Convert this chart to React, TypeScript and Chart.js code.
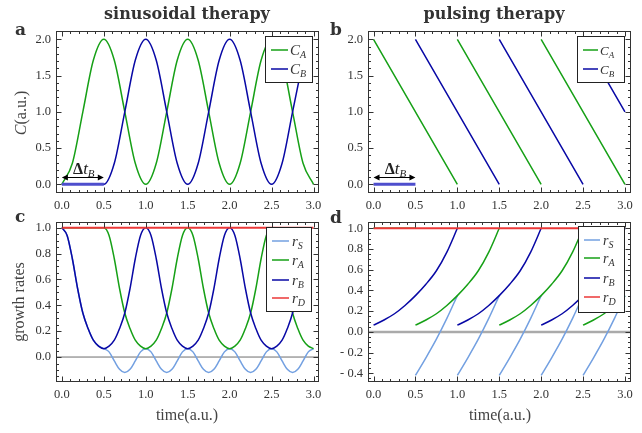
import React, { useEffect, useRef } from "react";
import { Chart, registerables } from "chart.js";

Chart.register(...registerables);

// ---------------- data ----------------
const timeTicks = [0, 0.5, 1, 1.5, 2, 2.5, 3];
const concTicks = [0, 0.5, 1, 1.5, 2];
const rateTicksSin = [0, 0.2, 0.4, 0.6, 0.8, 1];
const rateTicksPulse = [-0.4, -0.2, 0, 0.2, 0.4, 0.6, 0.8, 1];

// panel a: sinusoidal drug concentrations
const sinTime = [0, 0.125, 0.25, 0.375, 0.5, 0.625, 0.75, 0.875, 1, 1.125, 1.25, 1.375, 1.5, 1.625, 1.75, 1.875, 2, 2.125, 2.25, 2.375, 2.5, 2.625, 2.75, 2.875, 3];
const sinCA = [0, 0.29, 1, 1.71, 2, 1.71, 1, 0.29, 0, 0.29, 1, 1.71, 2, 1.71, 1, 0.29, 0, 0.29, 1, 1.71, 2, 1.71, 1, 0.29, 0];
const sinCB = [0, 0, 0, 0, 0, 0.29, 1, 1.71, 2, 1.71, 1, 0.29, 0, 0.29, 1, 1.71, 2, 1.71, 1, 0.29, 0, 0.29, 1, 1.71, null];
const delayTime = [0, 0.5];
const delayLevel = [0, 0];

// panel b: pulsed drug concentrations
const pulseATime = [0, 1, 1, 1, 2, 2, 2, 3];
const pulseCA = [2, 0, null, 2, 0, null, 2, 0];
const pulseBTime = [0.5, 1.5, 1.5, 1.5, 2.5, 2.5, 2.5, 3];
const pulseCB = [2, 0, null, 2, 0, null, 2, 1];

// panel c: growth rates under sinusoidal therapy
const rateTime = [0, 0.0625, 0.125, 0.1875, 0.25, 0.3125, 0.375, 0.4375, 0.5, 0.5625, 0.625, 0.6875, 0.75, 0.8125, 0.875, 0.9375, 1, 1.0625, 1.125, 1.1875, 1.25, 1.3125, 1.375, 1.4375, 1.5, 1.5625, 1.625, 1.6875, 1.75, 1.8125, 1.875, 1.9375, 2, 2.0625, 2.125, 2.1875, 2.25, 2.3125, 2.375, 2.4375, 2.5, 2.5625, 2.625, 2.6875, 2.75, 2.8125, 2.875, 2.9375, 3];
const sinRS = [1, 0.94, 0.76, 0.53, 0.34, 0.22, 0.13, 0.085, 0.065,
  0.04, -0.03, -0.095, -0.12, -0.095, -0.03, 0.04, 0.065,
  0.04, -0.03, -0.095, -0.12, -0.095, -0.03, 0.04, 0.065,
  0.04, -0.03, -0.095, -0.12, -0.095, -0.03, 0.04, 0.065,
  0.04, -0.03, -0.095, -0.12, -0.095, -0.03, 0.04, 0.065,
  0.04, -0.03, -0.095, -0.12, -0.095, -0.03, 0.04, 0.065];
const sinRA = [1, 1, 1, 1, 1, 1, 1, 1, 1,
  0.94, 0.76, 0.53, 0.34, 0.22, 0.13, 0.085, 0.065,
  0.085, 0.13, 0.22, 0.34, 0.53, 0.76, 0.94, 1,
  0.94, 0.76, 0.53, 0.34, 0.22, 0.13, 0.085, 0.065,
  0.085, 0.13, 0.22, 0.34, 0.53, 0.76, 0.94, 1,
  0.94, 0.76, 0.53, 0.34, 0.22, 0.13, 0.085, 0.065];
const sinRB = [1, 0.94, 0.76, 0.53, 0.34, 0.22, 0.13, 0.085, 0.065,
  0.085, 0.13, 0.22, 0.34, 0.53, 0.76, 0.94, 1,
  0.94, 0.76, 0.53, 0.34, 0.22, 0.13, 0.085, 0.065,
  0.085, 0.13, 0.22, 0.34, 0.53, 0.76, 0.94, 1,
  0.94, 0.76, 0.53, 0.34, 0.22, 0.13, 0.085, 0.065,
  0.085, 0.13, 0.22, 0.34, 0.53, null, null, null];
const constTime = [0, 3];
const sinRD = [1, 1];

// panel d: growth rates under pulsing therapy
const pulseRSTime = [0.5, 0.625, 0.75, 0.875, 1, 1, 1, 1.125, 1.25, 1.375, 1.5, 1.5, 1.5, 1.625, 1.75, 1.875, 2, 2, 2, 2.125, 2.25, 2.375, 2.5, 2.5, 2.5, 2.625, 2.75, 2.875, 3];
const pulseRS = [-0.42, -0.25, -0.07, 0.13, 0.35, null, -0.42, -0.25, -0.07, 0.13, 0.35, null, -0.42, -0.25, -0.07, 0.13, 0.35, null, -0.42, -0.25, -0.07, 0.13, 0.35, null, -0.42, -0.25, -0.07, 0.13, 0.35];
const pulseRATime = [0, 0.5, 0.5, 0.5, 0.625, 0.75, 0.875, 1, 1.125, 1.25, 1.375, 1.5, 1.5, 1.5, 1.625, 1.75, 1.875, 2, 2.125, 2.25, 2.375, 2.5, 2.5, 2.5, 2.625, 2.75, 2.875, 3];
const pulseRA = [1, 1, null, 0.065, 0.115, 0.175, 0.255, 0.35, 0.46, 0.59, 0.77, 1, null, 0.065, 0.115, 0.175, 0.255, 0.35, 0.46, 0.59, 0.77, 1, null, 0.065, 0.115, 0.175, 0.255, 0.35];
const pulseRBTime = [0, 0.125, 0.25, 0.375, 0.5, 0.625, 0.75, 0.875, 1, 1, 1, 1.125, 1.25, 1.375, 1.5, 1.625, 1.75, 1.875, 2, 2, 2, 2.125, 2.25, 2.375, 2.5, 2.625, 2.75, 2.875, 3];
const pulseRB = [0.065, 0.115, 0.175, 0.255, 0.35, 0.46, 0.59, 0.77, 1, null, 0.065, 0.115, 0.175, 0.255, 0.35, 0.46, 0.59, 0.77, 1, null, 0.065, 0.115, 0.175, 0.255, 0.35, 0.46, 0.59, 0.77, 1];
const pulseRD = [1, 1];

// ---------------- styles ----------------
const W = 642;
const H = 433;
const YW = 48;
const XH = 30;
const SERIF = '"Liberation Serif", "Times New Roman", serif';
const GREEN = "rgb(22,160,22)";
const BLUE = "rgb(8,8,165)";
const LIGHTBLUE = "rgb(115,160,225)";
const RED = "rgb(235,55,55)";
const DELAY = "rgb(78,78,205)";
const FRAME = "#333";
const TEXT = "#333";

const pts = (xs: number[], ys: (number | null)[]) => xs.map((x, i) => ({ x, y: ys[i] }));
const ds = (xs: number[], ys: (number | null)[], color: string, order: number, extra: any = {}) => ({
  data: pts(xs, ys),
  borderColor: color,
  backgroundColor: color,
  borderWidth: 1.5,
  pointRadius: 0,
  fill: false,
  order,
  cubicInterpolationMode: "monotone",
  ...extra,
});

const fmtTick = (v: number) => (v < 0 ? "- " + Math.abs(v).toFixed(1) : v.toFixed(1));

type Part = { t: string; f: string; dy?: number };
function drawRich(ctx: CanvasRenderingContext2D, parts: Part[], x: number, y: number, align = "left") {
  ctx.textAlign = "left";
  ctx.textBaseline = "alphabetic";
  let w = 0;
  for (const p of parts) {
    ctx.font = p.f;
    w += ctx.measureText(p.t).width;
  }
  let cx = align === "center" ? x - w / 2 : x;
  for (const p of parts) {
    ctx.font = p.f;
    ctx.fillText(p.t, cx, y + (p.dy || 0));
    cx += ctx.measureText(p.t).width;
  }
}

function drawArrow(ctx: CanvasRenderingContext2D, x0: number, x1: number, y: number) {
  ctx.save();
  ctx.strokeStyle = "#000";
  ctx.fillStyle = "#000";
  ctx.lineWidth = 1;
  ctx.beginPath();
  ctx.moveTo(x0 + 2, y);
  ctx.lineTo(x1 - 2, y);
  ctx.stroke();
  ctx.beginPath();
  ctx.moveTo(x0, y);
  ctx.lineTo(x0 + 6, y - 3);
  ctx.lineTo(x0 + 6, y + 3);
  ctx.closePath();
  ctx.moveTo(x1, y);
  ctx.lineTo(x1 - 6, y - 3);
  ctx.lineTo(x1 - 6, y + 3);
  ctx.closePath();
  ctx.fill();
  ctx.restore();
}

function drawDelay(chart: any) {
  const ctx = chart.ctx;
  const x = chart.scales.x;
  const y = chart.scales.y;
  const x0 = x.getPixelForValue(0);
  const x1 = x.getPixelForValue(0.5);
  const yy = Math.round(y.getPixelForValue(0.1)) + 0.5;
  drawArrow(ctx, x0, x1, yy);
  ctx.fillStyle = "#222";
  drawRich(ctx, [
    { t: "Δ", f: `bold 16px ${SERIF}` },
    { t: "t", f: `italic 17px ${SERIF}` },
    { t: "B", f: `italic 11px ${SERIF}`, dy: 3 },
  ], (x0 + x1) / 2 + 1, yy - 4, "center");
}

type LegendSpec = { box: number[]; lineX: number[]; textX: number; size: number; entries: { color: string; main: string; sub: string; y: number }[] };
function drawLegend(ctx: CanvasRenderingContext2D, L: LegendSpec) {
  const [l, t, r, b] = L.box;
  ctx.save();
  ctx.fillStyle = "#fff";
  ctx.fillRect(l, t, r - l, b - t);
  ctx.strokeStyle = "#222";
  ctx.lineWidth = 1;
  ctx.strokeRect(l + 0.5, t + 0.5, r - l - 1, b - t - 1);
  for (const e of L.entries) {
    ctx.strokeStyle = e.color;
    ctx.lineWidth = 1.5;
    ctx.beginPath();
    ctx.moveTo(L.lineX[0], e.y);
    ctx.lineTo(L.lineX[1], e.y);
    ctx.stroke();
    ctx.fillStyle = "#333";
    drawRich(ctx, [
      { t: e.main, f: `italic ${L.size}px ${SERIF}` },
      { t: e.sub, f: `italic ${Math.round(L.size * 0.68)}px ${SERIF}`, dy: 3 },
    ], L.textX, e.y + 5);
  }
  ctx.restore();
}

function drawFrame(chart: any, p: any) {
  const { ctx, chartArea: a } = chart;
  const x = chart.scales.x;
  const y = chart.scales.y;
  const L = a.left + 0.5, R = a.right - 0.5, T = a.top + 0.5, B = a.bottom - 0.5;
  ctx.save();
  ctx.strokeStyle = FRAME;
  ctx.lineWidth = 1;
  ctx.beginPath();
  const isMajor = (v: number, arr: number[]) => arr.some((m) => Math.abs(m - v) < 1e-6);
  const nx = Math.round(3 / 0.1);
  for (let i = 0; i <= nx; i++) {
    const v = i * 0.1;
    const len = isMajor(v, p.xTicks) ? 5 : 2.5;
    const px = Math.round(x.getPixelForValue(v)) + 0.5;
    ctx.moveTo(px, B); ctx.lineTo(px, B - len);
    ctx.moveTo(px, T); ctx.lineTo(px, T + len);
  }
  const [y0, y1] = p.yMinorRange;
  const ny = Math.round((y1 - y0) / p.yMinor);
  for (let i = 0; i <= ny; i++) {
    const v = y0 + i * p.yMinor;
    const len = isMajor(v, p.yTicks) ? 5 : 2.5;
    const py = Math.round(y.getPixelForValue(v)) + 0.5;
    ctx.moveTo(L, py); ctx.lineTo(L + len, py);
    ctx.moveTo(R, py); ctx.lineTo(R - len, py);
  }
  ctx.stroke();
  ctx.strokeRect(L, T, R - L, B - T);
  ctx.restore();
}

const TITLE_FONT = 'bold 16px "DejaVu Serif", serif';
const LETTER_FONT = 'bold 17px "DejaVu Serif", serif';

// ---------------- panels ----------------
const panels: any[] = [
  {
    area: { l: 56, t: 31, r: 319, b: 193 },
    xr: [-0.07, 3.065], yr: [-0.12, 2.114],
    xTicks: timeTicks, yTicks: concTicks, yMinor: 0.1, yMinorRange: [0, 2],
    datasets: [
      ds(delayTime, delayLevel, DELAY, 0, { borderWidth: 3, cubicInterpolationMode: "default", tension: 0 }),
      ds(sinTime, sinCA, GREEN, 2),
      ds(sinTime, sinCB, BLUE, 1),
    ],
    legend: { box: [265, 36, 313, 83], lineX: [271, 288], textX: 290, size: 15, entries: [
      { color: GREEN, main: "C", sub: "A", y: 50 },
      { color: BLUE, main: "C", sub: "B", y: 69 },
    ] },
    deco: (chart: any) => {
      const ctx = chart.ctx;
      ctx.fillStyle = "#333";
      ctx.font = TITLE_FONT;
      ctx.textAlign = "center";
      ctx.textBaseline = "alphabetic";
      ctx.fillText("sinusoidal therapy", 187, 19);
      ctx.textAlign = "left";
      ctx.font = LETTER_FONT;
      ctx.fillText("a", 15, 35);
      ctx.save();
      ctx.translate(26, 113);
      ctx.rotate(-Math.PI / 2);
      ctx.fillStyle = "#444";
      drawRich(ctx, [
        { t: "C", f: `italic 16px ${SERIF}` },
        { t: "(a.u.)", f: `16px ${SERIF}` },
      ], 0, 0, "center");
      ctx.restore();
      drawDelay(chart);
    },
  },
  {
    area: { l: 368, t: 31, r: 631, b: 193 },
    xr: [-0.066, 3.072], yr: [-0.12, 2.114],
    xTicks: timeTicks, yTicks: concTicks, yMinor: 0.1, yMinorRange: [0, 2],
    datasets: [
      ds(delayTime, delayLevel, DELAY, 0, { borderWidth: 3, cubicInterpolationMode: "default", tension: 0 }),
      ds(pulseATime, pulseCA, GREEN, 2, { cubicInterpolationMode: "default", tension: 0 }),
      ds(pulseBTime, pulseCB, BLUE, 1, { cubicInterpolationMode: "default", tension: 0 }),
    ],
    legend: { box: [577, 36, 625, 83], lineX: [583, 598], textX: 600, size: 13, entries: [
      { color: GREEN, main: "C", sub: "A", y: 50 },
      { color: BLUE, main: "C", sub: "B", y: 69 },
    ] },
    deco: (chart: any) => {
      const ctx = chart.ctx;
      ctx.fillStyle = "#333";
      ctx.font = TITLE_FONT;
      ctx.textAlign = "center";
      ctx.textBaseline = "alphabetic";
      ctx.fillText("pulsing therapy", 494, 19);
      ctx.textAlign = "left";
      ctx.font = LETTER_FONT;
      ctx.fillText("b", 330, 35);
      drawDelay(chart);
    },
  },
  {
    area: { l: 56, t: 222, r: 319, b: 382 },
    xr: [-0.07, 3.065], yr: [-0.193, 1.044],
    xTicks: timeTicks, yTicks: rateTicksSin, yMinor: 0.05, yMinorRange: [-0.15, 1.0],
    zero: { color: "#6e6e6e", width: 1 },
    datasets: [
      ds(constTime, sinRD, RED, 0, { borderWidth: 2, cubicInterpolationMode: "default", tension: 0 }),
      ds(rateTime, sinRB, BLUE, 1),
      ds(rateTime, sinRA, GREEN, 2),
      ds(rateTime, sinRS, LIGHTBLUE, 3),
    ],
    legend: { box: [266, 227, 312, 312], lineX: [272, 289], textX: 292, size: 15, entries: [
      { color: LIGHTBLUE, main: "r", sub: "S", y: 241 },
      { color: GREEN, main: "r", sub: "A", y: 260 },
      { color: BLUE, main: "r", sub: "B", y: 280 },
      { color: RED, main: "r", sub: "D", y: 298 },
    ] },
    deco: (chart: any) => {
      const ctx = chart.ctx;
      ctx.fillStyle = "#333";
      ctx.textAlign = "left";
      ctx.textBaseline = "alphabetic";
      ctx.font = LETTER_FONT;
      ctx.fillText("c", 15, 222);
      ctx.fillStyle = "#444";
      ctx.save();
      ctx.translate(24, 302);
      ctx.rotate(-Math.PI / 2);
      drawRich(ctx, [{ t: "growth rates", f: `16px ${SERIF}` }], 0, 0, "center");
      ctx.restore();
      drawRich(ctx, [{ t: "time(a.u.)", f: `16px ${SERIF}` }], 187, 420, "center");
    },
  },
  {
    area: { l: 368, t: 222, r: 631, b: 382 },
    xr: [-0.066, 3.072], yr: [-0.484, 1.061],
    xTicks: timeTicks, yTicks: rateTicksPulse, yMinor: 0.05, yMinorRange: [-0.45, 1.0],
    zero: { color: "#aaaaaa", width: 2.5 },
    datasets: [
      ds(constTime, pulseRD, RED, 0, { borderWidth: 2, cubicInterpolationMode: "default", tension: 0 }),
      ds(pulseRBTime, pulseRB, BLUE, 1),
      ds(pulseRATime, pulseRA, GREEN, 2),
      ds(pulseRSTime, pulseRS, LIGHTBLUE, 3),
    ],
    legend: { box: [578, 226, 625, 313], lineX: [584, 600], textX: 603, size: 14, entries: [
      { color: LIGHTBLUE, main: "r", sub: "S", y: 240 },
      { color: GREEN, main: "r", sub: "A", y: 258 },
      { color: BLUE, main: "r", sub: "B", y: 278 },
      { color: RED, main: "r", sub: "D", y: 297 },
    ] },
    deco: (chart: any) => {
      const ctx = chart.ctx;
      ctx.fillStyle = "#333";
      ctx.textAlign = "left";
      ctx.textBaseline = "alphabetic";
      ctx.font = LETTER_FONT;
      ctx.fillText("d", 330, 223);
      ctx.fillStyle = "#444";
      drawRich(ctx, [{ t: "time(a.u.)", f: `16px ${SERIF}` }], 500, 420, "center");
    },
  },
];

function makeConfig(p: any): any {
  const tickFont = { family: SERIF, size: 12.5 };
  return {
    type: "line",
    data: { datasets: p.datasets },
    options: {
      animation: false,
      responsive: false,
      maintainAspectRatio: false,
      devicePixelRatio: 1,
      layout: {
        autoPadding: false,
        padding: { left: p.area.l - YW, top: p.area.t, right: W - p.area.r, bottom: H - p.area.b - XH },
      },
      plugins: { legend: { display: false }, tooltip: { enabled: false } },
      scales: {
        x: {
          type: "linear",
          min: p.xr[0],
          max: p.xr[1],
          afterBuildTicks: (s: any) => { s.ticks = p.xTicks.map((v: number) => ({ value: v })); },
          afterFit: (s: any) => { s.height = XH; },
          grid: { display: false, drawTicks: false },
          border: { display: false },
          ticks: { autoSkip: false, maxRotation: 0, padding: 5, color: TEXT, font: tickFont, callback: (v: number) => fmtTick(v) },
        },
        y: {
          type: "linear",
          min: p.yr[0],
          max: p.yr[1],
          afterBuildTicks: (s: any) => { s.ticks = p.yTicks.map((v: number) => ({ value: v })); },
          afterFit: (s: any) => { s.width = YW; },
          grid: { display: false, drawTicks: false },
          border: { display: false },
          ticks: { autoSkip: false, padding: 5, color: TEXT, font: tickFont, callback: (v: number) => fmtTick(v) },
        },
      },
    },
    plugins: [
      {
        id: "panelDeco",
        beforeDatasetsDraw(chart: any) {
          if (!p.zero) return;
          const { ctx, chartArea: a } = chart;
          const py = chart.scales.y.getPixelForValue(0);
          ctx.save();
          ctx.strokeStyle = p.zero.color;
          ctx.lineWidth = p.zero.width;
          ctx.beginPath();
          ctx.moveTo(a.left, py);
          ctx.lineTo(a.right, py);
          ctx.stroke();
          ctx.restore();
        },
        afterDatasetsDraw(chart: any) {
          drawFrame(chart, p);
          drawLegend(chart.ctx, p.legend);
        },
        afterDraw(chart: any) {
          chart.ctx.save();
          p.deco(chart);
          chart.ctx.restore();
        },
      },
    ],
  };
}

function Panel({ p }: { p: any }) {
  const ref = useRef<HTMLCanvasElement | null>(null);
  useEffect(() => {
    const chart = new Chart(ref.current as HTMLCanvasElement, makeConfig(p));
    return () => chart.destroy();
  }, [p]);
  return <canvas ref={ref} width={W} height={H} style={{ position: "absolute", left: 0, top: 0, width: W, height: H }} />;
}

export default function App() {
  return (
    <div style={{ position: "fixed", left: 0, top: 0, width: W, height: H, background: "#fff", overflow: "hidden" }}>
      {panels.map((p, i) => (
        <Panel key={i} p={p} />
      ))}
    </div>
  );
}
